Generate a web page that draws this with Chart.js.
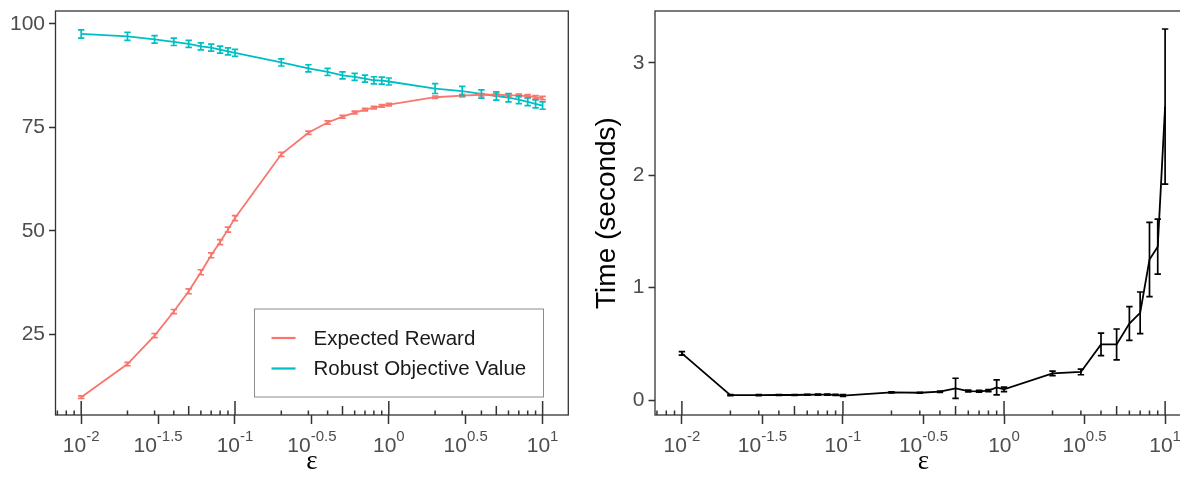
<!DOCTYPE html>
<html>
<head>
<meta charset="utf-8">
<title>Reward and time vs epsilon</title>
<script src="https://cdn.jsdelivr.net/npm/chart.js@4.4.1/dist/chart.umd.min.js"></script>
<style>
  html, body { margin: 0; padding: 0; background: #fff; overflow: hidden; }
  #left  { position: absolute; left: 0;     top: 0; width: 590px; height: 478px; }
  #right { position: absolute; left: 590px; top: 0; width: 620px; height: 478px; }
</style>
</head>
<body>
<div id="left"><canvas id="rewardChart"></canvas></div>
<div id="right"><canvas id="timeChart"></canvas></div>
<script>
// epsilon values (x, log scale)
const epsilon = [0.01, 0.02, 0.03, 0.04, 0.05, 0.06, 0.07, 0.08, 0.09,
                 0.1, 0.2, 0.3, 0.4, 0.5, 0.6, 0.7, 0.8, 0.9,
                 1, 2, 3, 4, 5, 6, 7, 8, 9, 10];

// left panel
const rewardMean = [9.8, 17.8, 24.7, 30.5, 35.4, 40.0, 44.1, 47.3, 50.3,
                    53.1, 68.5, 73.7, 76.2, 77.6, 78.6, 79.3, 79.8, 80.2,
                    80.5, 82.3, 82.7, 82.9, 82.9, 82.8, 82.7, 82.6, 82.3, 82.1];
const rewardErr = [0.3, 0.4, 0.5, 0.5, 0.6, 0.6, 0.6, 0.6, 0.6,
                   0.6, 0.5, 0.4, 0.4, 0.35, 0.35, 0.3, 0.3, 0.3,
                   0.3, 0.3, 0.3, 0.3, 0.3, 0.3, 0.35, 0.35, 0.4, 0.4];
const robustMean = [97.6, 97.0, 96.3, 95.7, 95.2, 94.6, 94.3, 93.8, 93.4,
                    93.0, 90.7, 89.3, 88.4, 87.6, 87.2, 86.8, 86.4, 86.3,
                    86.1, 84.4, 83.8, 83.1, 82.6, 82.2, 81.7, 81.2, 80.7, 80.3];
const robustErr = [1.0, 0.95, 0.9, 0.9, 0.85, 0.85, 0.85, 0.85, 0.85,
                   0.85, 0.85, 0.85, 0.85, 0.85, 0.85, 0.85, 0.85, 0.85,
                   0.85, 1.2, 1.1, 1.0, 1.0, 1.0, 0.95, 0.95, 0.95, 0.9];

// right panel
const timeMean = [0.415, 0.044, 0.044, 0.045, 0.045, 0.047, 0.048, 0.048, 0.046,
                  0.040, 0.068, 0.065, 0.074, 0.104, 0.080, 0.078, 0.084, 0.113,
                  0.095, 0.237, 0.250, 0.495, 0.495, 0.680, 0.776, 1.25, 1.364, 2.61];
const timeErr = [0.015, 0.005, 0.004, 0.004, 0.004, 0.004, 0.004, 0.004, 0.004,
                 0.008, 0.005, 0.004, 0.006, 0.09, 0.008, 0.008, 0.01, 0.067,
                 0.02, 0.02, 0.025, 0.10, 0.137, 0.15, 0.185, 0.33, 0.245, 0.69];

const seriesLabels = ['Expected Reward', 'Robust Objective Value'];
const seriesColors = ['#F8766D', '#00BFC4'];
const xTickExponents = [-2, -1.5, -1, -0.5, 0, 0.5, 1];
const rewardTicks = [25, 50, 75, 100];
const timeTicks = [0, 1, 2, 3];

const SANS = '"Liberation Sans", Arial, Helvetica, sans-serif';
Chart.defaults.font.family = SANS;
Chart.defaults.animation = false;

function points(ys) {
  return epsilon.map((x, i) => ({ x: x, y: ys[i] }));
}

// error bars, panel box, log ticks, superscript labels, legend
const decorPlugin = {
  id: 'decor',
  afterDatasetsDraw(chart) {
    const ctx = chart.ctx;
    const xs = chart.scales.x, ys = chart.scales.y;
    chart.data.datasets.forEach(ds => {
      if (!ds.errors) return;
      ctx.save();
      ctx.strokeStyle = ds.borderColor;
      ctx.lineWidth = 1.7;
      ds.data.forEach((p, i) => {
        const px = xs.getPixelForValue(p.x);
        const lo = ys.getPixelForValue(p.y - ds.errors[i]);
        const hi = ys.getPixelForValue(p.y + ds.errors[i]);
        ctx.beginPath();
        ctx.moveTo(px, lo); ctx.lineTo(px, hi);
        ctx.moveTo(px - 3.2, lo); ctx.lineTo(px + 3.2, lo);
        ctx.moveTo(px - 3.2, hi); ctx.lineTo(px + 3.2, hi);
        ctx.stroke();
      });
      ctx.restore();
    });
  },
  afterDraw(chart, args, opts) {
    const ctx = chart.ctx;
    const a = chart.chartArea;
    const xs = chart.scales.x;
    ctx.save();
    // panel box
    ctx.strokeStyle = '#333';
    ctx.lineWidth = 1.3;
    ctx.strokeRect(a.left, a.top, a.right - a.left, a.bottom - a.top);

    // log ticks along the bottom, inside the panel
    ctx.lineWidth = 1.5;
    ctx.beginPath();
    for (let d = -3; d <= 1; d++) {
      for (let k = 1; k <= 9; k++) {
        const v = k * Math.pow(10, d);
        if (v < xs.min || v > xs.max) continue;
        const px = xs.getPixelForValue(v);
        const len = k === 1 ? 14 : (k === 5 ? 9 : 4.5);
        ctx.moveTo(px, a.bottom);
        ctx.lineTo(px, a.bottom - len);
      }
    }
    ctx.stroke();

    // x tick labels 10^e
    ctx.fillStyle = '#4d4d4d';
    ctx.textBaseline = 'alphabetic';
    ctx.textAlign = 'left';
    xTickExponents.forEach(e => {
      const px = xs.getPixelForValue(Math.pow(10, e));
      ctx.font = '21px ' + SANS;
      const w1 = ctx.measureText('10').width;
      ctx.font = '15px ' + SANS;
      const exp = String(e);
      const w2 = ctx.measureText(exp).width;
      const start = px - (w1 + w2) / 2;
      ctx.font = '21px ' + SANS;
      ctx.fillText('10', start, 452);
      ctx.font = '15px ' + SANS;
      ctx.fillText(exp, start + w1, 441);
    });

    // legend inside the panel
    if (opts.legendBox) {
      const b = opts.legendBox;
      ctx.strokeStyle = '#8c8c8c';
      ctx.lineWidth = 1;
      ctx.strokeRect(b.x, b.y, b.w, b.h);
      ctx.font = '20.5px ' + SANS;
      ctx.textBaseline = 'middle';
      chart.data.datasets.forEach((ds, i) => {
        const cy = b.y + 29 + i * 30.5;
        ctx.strokeStyle = ds.borderColor;
        ctx.lineWidth = 2.2;
        ctx.beginPath();
        ctx.moveTo(b.x + 17, cy); ctx.lineTo(b.x + 41, cy);
        ctx.stroke();
        ctx.fillStyle = '#1a1a1a';
        ctx.fillText(ds.label, b.x + 59, cy + 1);
      });
    }
    ctx.restore();
  }
};

function xAxis() {
  return {
    type: 'logarithmic',
    min: Math.pow(10, -2.167),
    max: Math.pow(10, 1.167),
    afterBuildTicks: s => { s.ticks = xTickExponents.map(e => ({ value: Math.pow(10, e) })); },
    afterFit: s => { s.height = 63; s.paddingLeft = 0; s.paddingRight = 0; },
    border: { display: false },
    grid: { drawOnChartArea: false, drawTicks: true, tickLength: 9, tickWidth: 1.5, color: '#333' },
    ticks: { display: false, autoSkip: false },
    title: { display: true, text: 'ε', color: '#000',
             font: { family: '"Liberation Serif", "DejaVu Serif", serif', size: 27 },
             padding: { top: 0, bottom: 0 } }
  };
}

function yAxis(min, max, tickVals, width, titleText) {
  return {
    type: 'linear',
    min: min, max: max,
    afterBuildTicks: s => { s.ticks = tickVals.map(v => ({ value: v })); },
    afterFit: s => { s.width = width; s.paddingTop = 0; s.paddingBottom = 0; },
    border: { display: false },
    grid: { drawOnChartArea: false, drawTicks: true, tickLength: 6.5, tickWidth: 1.5, color: '#333' },
    ticks: { color: '#4d4d4d', font: { size: 21 }, padding: 4 },
    title: { display: !!titleText, text: titleText || '', color: '#000',
             font: { size: 28 }, padding: { top: 0, bottom: 0 } }
  };
}

new Chart(document.getElementById('rewardChart'), {
  type: 'line',
  data: {
    datasets: [
      { label: seriesLabels[0], data: points(rewardMean), errors: rewardErr,
        borderColor: seriesColors[0], borderWidth: 1.8, pointRadius: 0, tension: 0 },
      { label: seriesLabels[1], data: points(robustMean), errors: robustErr,
        borderColor: seriesColors[1], borderWidth: 1.8, pointRadius: 0, tension: 0 }
    ]
  },
  options: {
    responsive: true,
    maintainAspectRatio: false,
    layout: { padding: { top: 11, right: 21.7, left: 0, bottom: 0 } },
    scales: { x: xAxis(), y: yAxis(5.5, 103.14, rewardTicks, 55.5) },
    plugins: {
      legend: { display: false },
      tooltip: { enabled: false },
      decor: { legendBox: { x: 254.5, y: 309, w: 289, h: 88 } }
    }
  },
  plugins: [decorPlugin]
});

new Chart(document.getElementById('timeChart'), {
  type: 'line',
  data: {
    datasets: [
      { label: 'Time', data: points(timeMean), errors: timeErr,
        borderColor: '#000', borderWidth: 1.8, pointRadius: 0, tension: 0 }
    ]
  },
  options: {
    responsive: true,
    maintainAspectRatio: false,
    layout: { padding: { top: 11, right: 18, left: 0, bottom: 0 } },
    scales: { x: xAxis(), y: yAxis(-0.133, 3.46, timeTicks, 65, 'Time (seconds)') },
    plugins: {
      legend: { display: false },
      tooltip: { enabled: false },
      decor: {}
    }
  },
  plugins: [decorPlugin]
});
</script>
</body>
</html>
